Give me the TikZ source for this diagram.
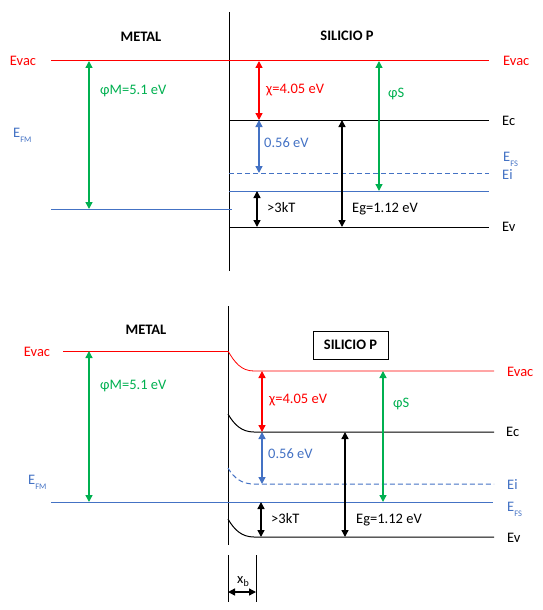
\documentclass[tikz,border=0pt]{standalone}
\usepackage{fontspec}
\setmainfont{Carlito}
\usetikzlibrary{arrows.meta}
\definecolor{ored}{RGB}{255,0,0}
\definecolor{ogreen}{RGB}{0,176,80}
\definecolor{oblue}{RGB}{68,114,196}
\newcommand\lowsub[1]{\raisebox{-5.5pt}{\fontsize{8.5}{9}\selectfont #1}}
\begin{document}
\begin{tikzpicture}[x=1pt,y=-1pt,
  font=\fontsize{14.5}{17}\selectfont,
  lvl/.style={line width=1pt},
  dsh/.style={line width=1pt, dash pattern=on 5pt off 3pt},
  dbl/.style={{Triangle[width=7pt,length=7pt]}-{Triangle[width=7pt,length=7pt]}, line width=1.4pt},
  lbl/.style={anchor=west, inner sep=0pt},
  ttl/.style={font=\fontsize{14.5}{17}\selectfont\bfseries, inner sep=0pt}]
\useasboundingbox (0,0) rectangle (542,610);

% ================= TOP =================
\coordinate (tWallT) at (229,12); \coordinate (tWallB) at (229,271);
\draw[lvl] (tWallT) -- (tWallB);
\node[ttl] (tMetal) at (141,37) {METAL};
\node[ttl] (tSi) at (347,36) {SILICIO P};

\coordinate (tEvL) at (51,61); \coordinate (tEvR) at (489,61);
\draw[lvl, ored] (tEvL) -- (tEvR);
\coordinate (tFmL) at (51,209); \coordinate (tFmR) at (232,209);
\draw[lvl, oblue] (tFmL) -- (tFmR);
\coordinate (tEcL) at (229,120); \coordinate (tEcR) at (489,120);
\draw[lvl] (tEcL) -- (tEcR);
\coordinate (tEiL) at (229,173); \coordinate (tEiR) at (489,173);
\draw[dsh, oblue] (tEiL) -- (tEiR);
\coordinate (tFsL) at (229,191); \coordinate (tFsR) at (489,191);
\draw[lvl, oblue] (tFsL) -- (tFsR);
\coordinate (tEvbL) at (229,227); \coordinate (tEvbR) at (489,227);
\draw[lvl] (tEvbL) -- (tEvbR);

\node[ored] (tEvacL) at (23,61) {Evac};
\node[lbl, ored] (tEvacR) at (503,61) {Evac};
\node[lbl, oblue, anchor=base west] (tEFM) at (13,137) {E\lowsub{FM}};
\node[lbl, ogreen] (tPhiM) at (100,91) {φM=5.1 eV};
\node[lbl, ored] (tChi) at (266,90) {χ=4.05 eV};
\node[lbl, oblue] (tGap) at (264,143) {0.56 eV};
\node[lbl] (tEc) at (502,121) {Ec};
\node[lbl, oblue, anchor=base west] (tEFS) at (503,161) {E\lowsub{FS}};
\node[lbl, oblue] (tEi) at (502,175) {Ei};
\node[lbl] (t3kT) at (267,208) {>3kT};
\node[lbl] (tEg) at (352,209) {Eg=1.12 eV};
\node[lbl] (tEv) at (502,227) {Ev};
\node[lbl, ogreen] (tPhiS) at (388,94) {φS};

\coordinate (a1t) at (89,61); \coordinate (a1b) at (89,209);
\draw[dbl, ogreen] (a1t) -- (a1b);
\coordinate (a2t) at (259,61); \coordinate (a2b) at (259,120);
\draw[dbl, ored] (a2t) -- (a2b);
\coordinate (a3t) at (259,120); \coordinate (a3b) at (259,173);
\draw[dbl, oblue] (a3t) -- (a3b);
\coordinate (a4t) at (257,191); \coordinate (a4b) at (257,227);
\draw[dbl] (a4t) -- (a4b);
\coordinate (a5t) at (342,120); \coordinate (a5b) at (342,227);
\draw[dbl] (a5t) -- (a5b);
\coordinate (a6t) at (379,61); \coordinate (a6b) at (379,191);
\draw[dbl, ogreen] (a6t) -- (a6b);

% ================= BOTTOM =================
\coordinate (bWallT) at (228,306); \coordinate (bWallB) at (228,545);
\draw[lvl] (bWallT) -- (bWallB);
\node[ttl] (bMetal) at (146,330) {METAL};
\node[ttl, draw, line width=1pt, minimum width=75pt, minimum height=28pt] (bSi) at (350.5,345) {SILICIO P};

\coordinate (bEvL) at (63,351); \coordinate (bEvW) at (228,351);
\coordinate (bEvK) at (254,371); \coordinate (bEvR) at (494,371);
\draw[lvl, ored] (bEvL) -- (bEvW);
\draw[line width=0.8pt, ored] (bEvW) to[out=-60,in=180] (bEvK) -- (bEvR);
\coordinate (bFmL) at (51,502); \coordinate (bFmR) at (493,502);
\draw[lvl, oblue] (bFmL) -- (bFmR);
\coordinate (bEcW) at (228,414); \coordinate (bEcK) at (254,432); \coordinate (bEcR) at (494,432);
\draw[lvl] (bEcW) to[out=-60,in=180] (bEcK) -- (bEcR);
\coordinate (bEiW) at (228,468); \coordinate (bEiK) at (254,484); \coordinate (bEiR) at (494,484);
\draw[dsh, oblue] (bEiW) to[out=-60,in=180] (bEiK) -- (bEiR);
\coordinate (bEvbW) at (228,519); \coordinate (bEvbK) at (254,537); \coordinate (bEvbR) at (494,537);
\draw[lvl] (bEvbW) to[out=-60,in=180] (bEvbK) -- (bEvbR);

\node[ored] (bEvacL) at (37,352) {Evac};
\node[lbl, ored] (bEvacR) at (507,372) {Evac};
\node[lbl, oblue, anchor=base west] (bEFM) at (28,484) {E\lowsub{FM}};
\node[lbl, ogreen] (bPhiM) at (100,386) {φM=5.1 eV};
\node[lbl, ored] (bChi) at (269,400) {χ=4.05 eV};
\node[lbl, oblue] (bGap) at (268,454) {0.56 eV};
\node[lbl] (bEc) at (506,432) {Ec};
\node[lbl, oblue] (bEi) at (507,485) {Ei};
\node[lbl, oblue, anchor=base west] (bEFS) at (507,511) {E\lowsub{FS}};
\node[lbl] (b3kT) at (271,519) {>3kT};
\node[lbl] (bEg) at (356,520) {Eg=1.12 eV};
\node[lbl] (bEv) at (507,538) {Ev};
\node[lbl, ogreen] (bPhiS) at (393,404) {φS};

\coordinate (c1t) at (89,351); \coordinate (c1b) at (89,502);
\draw[dbl, ogreen] (c1t) -- (c1b);
\coordinate (c2t) at (262,371); \coordinate (c2b) at (262,432);
\draw[dbl, ored] (c2t) -- (c2b);
\coordinate (c3t) at (262,432); \coordinate (c3b) at (262,484);
\draw[dbl, oblue] (c3t) -- (c3b);
\coordinate (c4t) at (261,502); \coordinate (c4b) at (261,537);
\draw[dbl] (c4t) -- (c4b);
\coordinate (c5t) at (345,432); \coordinate (c5b) at (345,537);
\draw[dbl] (c5t) -- (c5b);
\coordinate (c6t) at (383,371); \coordinate (c6b) at (383,502);
\draw[dbl, ogreen] (c6t) -- (c6b);

% x_b
\coordinate (xLt) at (228,555); \coordinate (xLb) at (228,602);
\coordinate (xRt) at (256,555); \coordinate (xRb) at (256,602);
\draw[lvl] (xLt) -- (xLb);
\draw[lvl] (xRt) -- (xRb);
\coordinate (xa) at (228,592); \coordinate (xbb) at (256,592);
\draw[dbl] (xa) -- (xbb);
\node[inner sep=0pt, anchor=base] (xlbl) at (243,583) {x\raisebox{-3.5pt}{\fontsize{10}{10}\selectfont b}};
\end{tikzpicture}
\end{document}
